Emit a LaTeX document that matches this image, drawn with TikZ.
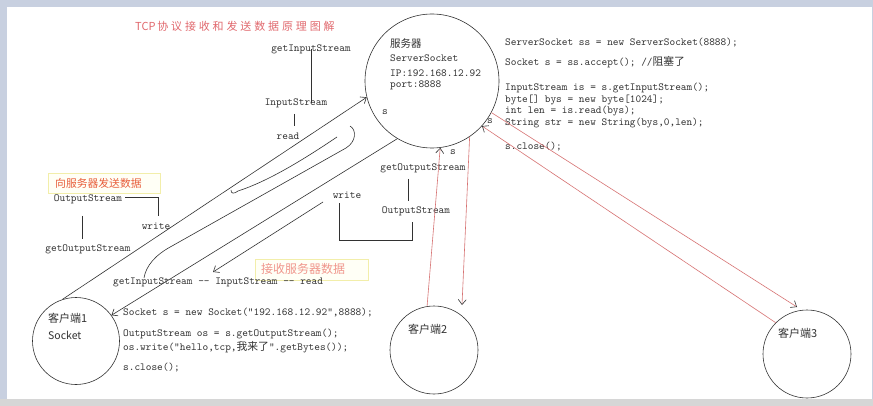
\documentclass[tikz,border=0pt]{standalone}
\usepackage{fontspec}
\newfontfamily\cjk{Noto Sans CJK SC}
\newfontfamily\cjkwide[LetterSpace=26]{Noto Sans CJK SC}
\usetikzlibrary{arrows.meta}
\definecolor{ink}{RGB}{50,50,50}
\definecolor{redline}{RGB}{215,115,115}
\definecolor{titlered}{RGB}{225,105,110}
\definecolor{labred}{RGB}{232,95,60}
\definecolor{labpale}{RGB}{240,150,140}
\definecolor{boxy}{RGB}{242,238,170}
\definecolor{boxfill}{RGB}{255,255,246}
\definecolor{framebg}{RGB}{200,208,224}
\definecolor{bottombg}{RGB}{214,214,214}
\begin{document}
\begin{tikzpicture}[x=1pt,y=-1pt,
  code/.style={font=\fontsize{10.8}{12}\selectfont\ttfamily, text=ink, inner sep=0pt, anchor=west},
  lbl/.style={font=\fontsize{10.8}{12}\selectfont\ttfamily, text=ink, inner sep=0pt},
  cj/.style={font=\fontsize{10.5}{12}\selectfont\cjk, text=ink, inner sep=0pt, anchor=west},
  stroke/.style={draw=ink, line width=0.6pt},
  redl/.style={draw=redline, line width=0.6pt},
  tip/.style={-{Straight Barb[length=5pt,width=8pt,color=ink]}},
  ball/.style={circle, draw=ink, line width=0.6pt, inner sep=0pt},
  boxst/.style={draw=boxy, fill=boxfill, line width=0.8pt, inner sep=0pt},
]
% frame
\fill[framebg] (0,0) rectangle (873,406);
\fill[bottombg] (0,399) rectangle (873,406);
\fill[white] (7,7) rectangle (872,399);
\useasboundingbox (0,0) rectangle (873,406);

% circles
\node[ball, minimum size=134pt] (server) at (432,81) {};
\node[ball, minimum size=87pt] (c1) at (76,341) {};
\node[ball, minimum size=88pt] (c2) at (434,350) {};
\node[ball, minimum size=88pt] (c3) at (807,354) {};

% title
\node[font=\fontsize{11}{12}\selectfont\cjk, text=titlered, inner sep=0pt, anchor=west] (title) at (135,26) {TCP\,{\cjkwide 协议接收和发送数据原理图解}};

% server texts
\node[cj] (srvName) at (390,44) {服务器};
\node[code] (srvSS) at (390,58) {ServerSocket};
\node[code] (srvIP) at (390,73) {IP:192.168.12.92};
\node[code] (srvPort) at (390,85) {port:8888};
\node[lbl] (sA) at (385,112) {s};
\node[lbl] (sB) at (490,121) {s};
\node[lbl] (sC) at (453,152) {s};

% server code
\node[code] (k1) at (505,43) {ServerSocket ss = new ServerSocket(8888);};
\node[code] (k2) at (505,62) {Socket s = ss.accept(); //{\cjk 阻塞了}};
\node[code] (k3) at (505,88) {InputStream is = s.getInputStream();};
\node[code] (k4) at (505,100) {byte[] bys = new byte[1024];};
\node[code] (k5) at (505,111) {int len = is.read(bys);};
\node[code] (k6) at (505,123) {String str = new String(bys,0,len);};
\node[code] (k7) at (505,147) {s.close();};

% server read side
\node[lbl] (gis) at (311,49) {getInputStream};
\node[lbl] (isS) at (296,103) {InputStream};
\node[lbl] (rd) at (288,136) {read};
\draw[stroke] ([yshift=5pt]gis.south) -- ([yshift=-5pt]gis.south |- isS.north);
\draw[stroke] ([shift={(-2,6)}]isS.south) -- ([shift={(-2,-6)}]isS.south |- rd.north);

% server write side
\node[lbl] (sgos) at (423,168) {getOutputStream};
\node[lbl] (sos) at (416,211) {OutputStream};
\node[lbl] (sw) at (347,195) {write};
\draw[stroke] ([shift={(-15,6)}]sgos.south) -- ([shift={(-15,-5)}]sgos.south |- sos.north);
\draw[stroke] ([shift={(-8,5)}]sw.south) |- ([shift={(-4,25)}]sos.south) -- ([shift={(-4,6)}]sos.south);

% client labels
\node[boxst, minimum width=112pt, minimum height=20pt] (sendBox) at (104,183) {};
\node[font=\fontsize{10.8}{12}\selectfont\cjk, text=labred, inner sep=0pt, anchor=west] (sendLbl) at (55,183) {向服务器发送数据};
\node[lbl] (cos) at (88,199) {OutputStream};
\node[lbl] (cw) at (156,226) {write};
\node[lbl] (cgos) at (88,249) {getOutputStream};
\draw[stroke] ([shift={(3,-2)}]cos.east) -| ([shift={(2,-6)}]cw.north);
\draw[stroke] ([shift={(-6,12)}]cos.south) -- ([shift={(-6,-5)}]cgos.north);

\node[boxst, minimum width=113pt, minimum height=21pt] (recvBox) at (311.5,269.5) {};
\node[font=\fontsize{12}{13}\selectfont\cjk, text=labpale, inner sep=0pt, anchor=west] (recvLbl) at (261,269) {接收服务器数据};
\node[code] (cin) at (113,282) {getInputStream -{}- InputStream -{}- read};

% client code
\node[code] (m1) at (123,313) {Socket s = new Socket("192.168.12.92",8888);};
\node[code] (m2) at (123,334) {OutputStream os = s.getOutputStream();};
\node[code] (m3) at (123,347) {os.write("hello,tcp,{\cjk 我来了}".getBytes());};
\node[code] (m4) at (123,368) {s.close();};

% client names
\node[cj, font=\fontsize{11}{12}\selectfont\cjk] (c1name) at (48,318) {客户端1};
\node[cj, font=\fontsize{10.5}{12}\selectfont\cjk] (c1sock) at (48,335) {Socket};
\node[cj, font=\fontsize{11}{12}\selectfont\cjk] (c2name) at (408,329) {客户端2};
\node[cj, font=\fontsize{11}{12}\selectfont\cjk] (c3name) at (778,333) {客户端3};

% hand drawn black strokes
\coordinate (lwS) at (323,202);
\coordinate (lwE) at (213,272);
\coordinate (cvA) at (231,190);
\coordinate (cvB) at (337,137);
\coordinate (hkA) at (350,126);
\coordinate (hkB) at (346,148);
\coordinate (hkC) at (172,246);
\coordinate (hkD) at (144,278);
\draw[stroke, tip] (c1.108) -- (server.194);
\draw[stroke] (cvA) .. controls (231,194) and (234,194) .. (238,191) .. controls (266,182) and (300,162) .. (cvB);
\draw[stroke] (hkA) .. controls (357,130) and (356,142) .. (hkB) -- (hkC) .. controls (155,255) and (146,266) .. (hkD);
\draw[stroke, tip] (server.239) -- (c1.36);
\draw[stroke, tip] (lwS) -- (lwE);

% red connectors
\coordinate (c2in) at (462,305);
\coordinate (c3in) at (797,307);
\draw[redl, tip] (c2.99) -- (server.277);
\draw[redl, tip] (server.304) -- (c2in);
\draw[redl, tip] (c3.135) -- (server.318);
\draw[redl, tip] (server.332) -- (c3in);
\end{tikzpicture}
\end{document}
